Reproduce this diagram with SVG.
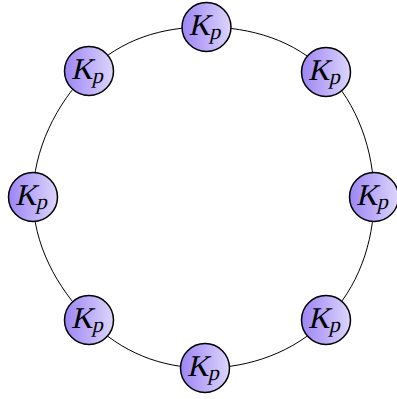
<svg xmlns="http://www.w3.org/2000/svg" width="397" height="399" viewBox="0 0 397 399">
<defs>
<linearGradient id="g" x1="0" y1="0" x2="1" y2="0">
<stop offset="0" stop-color="#9c85f6"/>
<stop offset="1" stop-color="#ddd5fb"/>
</linearGradient>
<style>
.n{fill:url(#g);stroke:#000;stroke-width:1.5}
.t{font-size:30px;fill:#000}
.s{font-size:22px}
.e{fill:none;stroke:#000;stroke-width:1}
</style>
</defs>
<rect width="397" height="399" fill="#fff"/>
<g id="connectors">
<path class="e" d="M206.5,27 C250.9,27.2 294.6,40.1 326,72 C357.4,103.9 374,150.5 374,197 C374,243.5 357.7,287.9 326,320 C294.3,352.1 249.4,368 205,368 C160.6,368 121.25,352.1 89,320 C56.75,287.9 33,243.7 33,197 C33,150.3 56.5,102.9 89,71 C121.5,39.1 162.1,26.8 206.5,27 Z"/>
</g>
<g id="n1"><circle class="n" cx="206.5" cy="27" r="24.5"/><text class="t" font-family="Liberation Serif" transform="translate(188.5,35) skewX(-13)">K<tspan class="s" dy="4">p</tspan></text></g>
<g id="n2"><circle class="n" cx="326" cy="72" r="24.5"/><text class="t" font-family="Liberation Serif" transform="translate(308,80) skewX(-13)">K<tspan class="s" dy="4">p</tspan></text></g>
<g id="n3"><circle class="n" cx="374" cy="197" r="24.5"/><text class="t" font-family="Liberation Serif" transform="translate(356,205) skewX(-13)">K<tspan class="s" dy="4">p</tspan></text></g>
<g id="n4"><circle class="n" cx="326" cy="320" r="24.5"/><text class="t" font-family="Liberation Serif" transform="translate(308,328) skewX(-13)">K<tspan class="s" dy="4">p</tspan></text></g>
<g id="n5"><circle class="n" cx="205" cy="368" r="24.5"/><text class="t" font-family="Liberation Serif" transform="translate(187,376) skewX(-13)">K<tspan class="s" dy="4">p</tspan></text></g>
<g id="n6"><circle class="n" cx="89" cy="320" r="24.5"/><text class="t" font-family="Liberation Serif" transform="translate(71,328) skewX(-13)">K<tspan class="s" dy="4">p</tspan></text></g>
<g id="n7"><circle class="n" cx="33" cy="197" r="24.5"/><text class="t" font-family="Liberation Serif" transform="translate(15,205) skewX(-13)">K<tspan class="s" dy="4">p</tspan></text></g>
<g id="n8"><circle class="n" cx="89" cy="71" r="24.5"/><text class="t" font-family="Liberation Serif" transform="translate(71,79) skewX(-13)">K<tspan class="s" dy="4">p</tspan></text></g>
</svg>
